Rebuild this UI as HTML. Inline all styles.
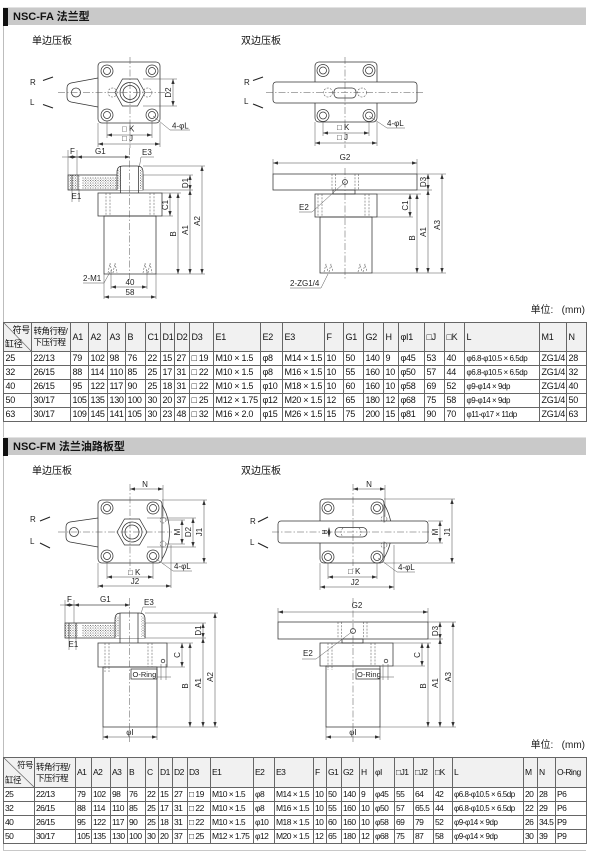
<!DOCTYPE html>
<html><head><meta charset="utf-8">
<style>
html,body{margin:0;padding:0;background:#fff;}
body{width:607px;height:859px;position:relative;overflow:hidden;font-family:"Liberation Sans","Noto Sans CJK SC",sans-serif;}
.bar{position:absolute;left:3px;width:583px;height:18px;background:#c9c9c9;border-top:1px solid #e2e2e2;box-sizing:border-box;}
.bar .blk{position:absolute;left:0;top:0;width:5px;height:18px;background:#111;}
.bar .t{position:absolute;left:10px;top:2px;font-size:11px;font-weight:bold;color:#111;line-height:14px;white-space:nowrap;}
.sub{position:absolute;font-size:10px;color:#111;line-height:12px;white-space:nowrap;}
.unit{position:absolute;right:22px;font-size:10px;color:#222;line-height:12px;white-space:nowrap;}
table.tb{position:absolute;left:3px;border-collapse:collapse;table-layout:fixed;width:583px;font-size:9px;color:#111;border-top:1.5px solid #222;border-bottom:1.5px solid #222;}
table.tb td{border:1px solid #666;padding:0 0 0 1.5px;white-space:nowrap;overflow:hidden;line-height:13px;height:13px;letter-spacing:-0.3px;}
table.t2 td{font-size:8.5px;letter-spacing:-0.55px;padding-left:1px;}
table.tb tr.hd td{background:#f1f1f1;}
table.tb td.ls{font-size:8px;letter-spacing:-0.45px;}
table.tb td.dg{position:relative;padding:0;}
.dg svg{position:absolute;left:0;top:0;}
.dg .a{position:absolute;right:1px;top:2px;line-height:10px;}
.dg .b{position:absolute;left:1px;bottom:2px;line-height:10px;}
.hz{line-height:11px;font-size:8.5px;letter-spacing:-0.5px;}
</style></head><body>

<!-- frame lines -->
<div style="position:absolute;left:3px;top:25px;width:1px;height:412px;background:#bdbdbd"></div>
<div style="position:absolute;left:3px;top:455px;width:1px;height:396px;background:#bdbdbd"></div>
<div style="position:absolute;left:3px;top:850px;width:583px;height:1px;background:#c8c8c8"></div>

<!-- Section 1 -->
<div class="bar" style="top:7px"><div class="blk"></div><div class="t">NSC-FA 法兰型</div></div>
<div class="sub" style="left:32px;top:36px">单边压板</div>
<div class="sub" style="left:241px;top:36px">双边压板</div>
<div class="unit" style="top:305px">单位:&nbsp;&nbsp;&nbsp;(mm)</div>

<table class="tb" style="top:322px">
<colgroup>
<col style="width:28px"><col style="width:39px"><col style="width:18px"><col style="width:19px"><col style="width:18px"><col style="width:20px"><col style="width:15px"><col style="width:14px"><col style="width:15px"><col style="width:24px"><col style="width:47px"><col style="width:22px"><col style="width:42px"><col style="width:19px"><col style="width:20px"><col style="width:20px"><col style="width:15px"><col style="width:26px"><col style="width:20px"><col style="width:20px"><col style="width:75px"><col style="width:27px"><col style="width:20px">
</colgroup>
<tr class="hd">
<td class="dg" style="height:28px"><svg width="28" height="29"><line x1="0" y1="0" x2="28" y2="29" stroke="#666" stroke-width="0.7"/></svg><span class="a">符号</span><span class="b">缸径</span></td>
<td style="height:28px"><div class="hz">转角行程/<br>下压行程</div></td>
<td>A1</td><td>A2</td><td>A3</td><td>B</td><td>C1</td><td>D1</td><td>D2</td><td>D3</td><td>E1</td><td>E2</td><td>E3</td><td>F</td><td>G1</td><td>G2</td><td>H</td><td>φI1</td><td>□J</td><td>□K</td><td>L</td><td>M1</td><td>N</td></tr>
<tr><td>25</td><td>22/13</td><td>79</td><td>102</td><td>98</td><td>76</td><td>22</td><td>15</td><td>27</td><td>□ 19</td><td>M10 × 1.5</td><td>φ8</td><td>M14 × 1.5</td><td>10</td><td>50</td><td>140</td><td>9</td><td>φ45</td><td>53</td><td>40</td><td class="ls">φ6.8-φ10.5 × 6.5dp</td><td>ZG1/4</td><td>28</td></tr>
<tr><td>32</td><td>26/15</td><td>88</td><td>114</td><td>110</td><td>85</td><td>25</td><td>17</td><td>31</td><td>□ 22</td><td>M10 × 1.5</td><td>φ8</td><td>M16 × 1.5</td><td>10</td><td>55</td><td>160</td><td>10</td><td>φ50</td><td>57</td><td>44</td><td class="ls">φ6.8-φ10.5 × 6.5dp</td><td>ZG1/4</td><td>32</td></tr>
<tr><td>40</td><td>26/15</td><td>95</td><td>122</td><td>117</td><td>90</td><td>25</td><td>18</td><td>31</td><td>□ 22</td><td>M10 × 1.5</td><td>φ10</td><td>M18 × 1.5</td><td>10</td><td>60</td><td>160</td><td>10</td><td>φ58</td><td>69</td><td>52</td><td class="ls">φ9-φ14 × 9dp</td><td>ZG1/4</td><td>40</td></tr>
<tr><td>50</td><td>30/17</td><td>105</td><td>135</td><td>130</td><td>100</td><td>30</td><td>20</td><td>37</td><td>□ 25</td><td>M12 × 1.75</td><td>φ12</td><td>M20 × 1.5</td><td>12</td><td>65</td><td>180</td><td>12</td><td>φ68</td><td>75</td><td>58</td><td class="ls">φ9-φ14 × 9dp</td><td>ZG1/4</td><td>50</td></tr>
<tr><td>63</td><td>30/17</td><td>109</td><td>145</td><td>141</td><td>105</td><td>30</td><td>23</td><td>48</td><td>□ 32</td><td>M16 × 2.0</td><td>φ15</td><td>M26 × 1.5</td><td>15</td><td>75</td><td>200</td><td>15</td><td>φ81</td><td>90</td><td>70</td><td class="ls">φ11-φ17 × 11dp</td><td>ZG1/4</td><td>63</td></tr>
</table>

<!-- Section 2 -->
<div class="bar" style="top:437px"><div class="blk"></div><div class="t">NSC-FM 法兰油路板型</div></div>
<div class="sub" style="left:32px;top:466px">单边压板</div>
<div class="sub" style="left:241px;top:466px">双边压板</div>
<div class="unit" style="top:740px">单位:&nbsp;&nbsp;&nbsp;(mm)</div>

<table class="tb t2" style="top:757px">
<colgroup>
<col style="width:31px"><col style="width:41px"><col style="width:16px"><col style="width:19px"><col style="width:17px"><col style="width:18px"><col style="width:13px"><col style="width:14px"><col style="width:15px"><col style="width:23px"><col style="width:43px"><col style="width:21px"><col style="width:39px"><col style="width:13px"><col style="width:15px"><col style="width:18px"><col style="width:14px"><col style="width:21px"><col style="width:19px"><col style="width:20px"><col style="width:19px"><col style="width:71px"><col style="width:14px"><col style="width:18px"><col style="width:31px">
</colgroup>
<tr class="hd">
<td class="dg" style="height:29px"><svg width="31" height="30"><line x1="0" y1="0" x2="31" y2="30" stroke="#666" stroke-width="0.7"/></svg><span class="a">符号</span><span class="b">缸径</span></td>
<td style="height:29px"><div class="hz">转角行程/<br>下压行程</div></td>
<td>A1</td><td>A2</td><td>A3</td><td>B</td><td>C</td><td>D1</td><td>D2</td><td>D3</td><td>E1</td><td>E2</td><td>E3</td><td>F</td><td>G1</td><td>G2</td><td>H</td><td>φI</td><td>□J1</td><td>□J2</td><td>□K</td><td>L</td><td>M</td><td>N</td><td>O-Ring</td></tr>
<tr><td>25</td><td>22/13</td><td>79</td><td>102</td><td>98</td><td>76</td><td>22</td><td>15</td><td>27</td><td>□ 19</td><td>M10 × 1.5</td><td>φ8</td><td>M14 × 1.5</td><td>10</td><td>50</td><td>140</td><td>9</td><td>φ45</td><td>55</td><td>64</td><td>42</td><td class="ls">φ6.8-φ10.5 × 6.5dp</td><td>20</td><td>28</td><td>P6</td></tr>
<tr><td>32</td><td>26/15</td><td>88</td><td>114</td><td>110</td><td>85</td><td>25</td><td>17</td><td>31</td><td>□ 22</td><td>M10 × 1.5</td><td>φ8</td><td>M16 × 1.5</td><td>10</td><td>55</td><td>160</td><td>10</td><td>φ50</td><td>57</td><td>65.5</td><td>44</td><td class="ls">φ6.8-φ10.5 × 6.5dp</td><td>22</td><td>29</td><td>P6</td></tr>
<tr><td>40</td><td>26/15</td><td>95</td><td>122</td><td>117</td><td>90</td><td>25</td><td>18</td><td>31</td><td>□ 22</td><td>M10 × 1.5</td><td>φ10</td><td>M18 × 1.5</td><td>10</td><td>60</td><td>160</td><td>10</td><td>φ58</td><td>69</td><td>79</td><td>52</td><td class="ls">φ9-φ14 × 9dp</td><td>26</td><td>34.5</td><td>P9</td></tr>
<tr><td>50</td><td>30/17</td><td>105</td><td>135</td><td>130</td><td>100</td><td>30</td><td>20</td><td>37</td><td>□ 25</td><td>M12 × 1.75</td><td>φ12</td><td>M20 × 1.5</td><td>12</td><td>65</td><td>180</td><td>12</td><td>φ68</td><td>75</td><td>87</td><td>58</td><td class="ls">φ9-φ14 × 9dp</td><td>30</td><td>39</td><td>P9</td></tr>
</table>

<svg width="607" height="859" style="position:absolute;left:0;top:0" xmlns="http://www.w3.org/2000/svg">
<defs>
<marker id="ar" viewBox="0 0 6 4" refX="6" refY="2" markerWidth="5" markerHeight="3.4" orient="auto-start-reverse" markerUnits="userSpaceOnUse"><path d="M0,0 L6,2 L0,4z" fill="#333"/></marker>
<pattern id="ht" width="2.5" height="2.5" patternUnits="userSpaceOnUse"><rect x="0" y="0" width="1" height="1" fill="#777"/><rect x="1.25" y="1.25" width="0.8" height="0.8" fill="#999"/></pattern>
<style>
.l{stroke:#333;stroke-width:0.75;fill:none}
.lf{stroke:#333;stroke-width:0.75;fill:#fff}
.d{stroke:#555;stroke-width:0.5;fill:none}
.dm{stroke:#444;stroke-width:0.5;fill:none;marker-start:url(#ar);marker-end:url(#ar)}
.c{stroke:#555;stroke-width:0.5;fill:none;stroke-dasharray:7 2 1.5 2}
.h{stroke:#555;stroke-width:0.55;fill:none;stroke-dasharray:2 1.3}
.ht{fill:url(#ht);stroke:none}
.rl{stroke:#222;stroke-width:1.1;fill:none}
text{font-family:"Liberation Sans",sans-serif;font-size:8px;fill:#222}
</style>
</defs>

<!-- ============ FA single : top view ============ -->
<path class="l" d="M98,78 L71,83 Q67,84 67,88 L67,97 Q67,101 71,102 L98,107"/>
<circle class="l" cx="76" cy="92.5" r="4.5"/>
<rect class="lf" x="98" y="62" width="62" height="61" rx="4"/>
<g class="l">
<circle cx="107" cy="71" r="6"/><circle cx="107" cy="71" r="3.5"/>
<circle cx="152" cy="71" r="6"/><circle cx="152" cy="71" r="3.5"/>
<circle cx="107" cy="115" r="6"/><circle cx="107" cy="115" r="3.5"/>
<circle cx="152" cy="115" r="6"/><circle cx="152" cy="115" r="3.5"/>
<polygon points="145,92.5 137.5,79 122.5,79 115,92.5 122.5,106 137.5,106"/>
<circle cx="130" cy="92.5" r="10"/><circle cx="130" cy="92.5" r="7"/>
</g>
<g class="h"><circle cx="112.5" cy="92.5" r="4.5"/><circle cx="147.5" cy="92.5" r="4.5"/></g>
<line class="c" x1="58" y1="92.5" x2="168" y2="92.5"/>
<line class="c" x1="130" y1="57" x2="130" y2="148"/>
<line class="d" x1="143" y1="79" x2="177" y2="79"/>
<line class="d" x1="143" y1="106" x2="177" y2="106"/>
<line class="dm" x1="173" y1="79" x2="173" y2="106"/>
<text transform="translate(171,92.5) rotate(-90)" text-anchor="middle">D2</text>
<text x="30" y="85">R</text><line class="rl" x1="43" y1="80.5" x2="53" y2="77"/>
<text x="30" y="105">L</text><line class="rl" x1="43" y1="104.5" x2="53" y2="108"/>
<polyline class="d" points="153,116 170,130 190,130"/>
<text x="172" y="128.5">4-φL</text>
<line class="d" x1="107" y1="121" x2="107" y2="138"/><line class="d" x1="152" y1="121" x2="152" y2="138"/>
<line class="d" x1="98" y1="123" x2="98" y2="147"/><line class="d" x1="160" y1="123" x2="160" y2="147"/>
<line class="dm" x1="107" y1="135" x2="152" y2="135"/>
<line class="dm" x1="98" y1="144" x2="160" y2="144"/>
<text x="122" y="131.5">□ K</text>
<text x="122" y="141">□ J</text>

<!-- ============ FA single : side view ============ -->
<line class="d" x1="62" y1="157" x2="130" y2="157"/>
<line class="dm" x1="68" y1="157" x2="77" y2="157"/>
<line class="dm" x1="77" y1="157" x2="130" y2="157"/>
<line class="d" x1="68" y1="150" x2="68" y2="175"/><line class="d" x1="77" y1="150" x2="77" y2="175"/>
<text x="70" y="154">F</text><text x="95" y="154">G1</text>
<text x="142" y="155">E3</text><line class="d" x1="141" y1="157" x2="154" y2="157"/><line class="d" x1="141" y1="157" x2="139" y2="169"/>
<rect class="ht" x="82" y="177" width="35" height="12"/>
<rect class="ht" x="68" y="175" width="12" height="15"/>
<rect class="l" x="68" y="175" width="75" height="15"/>
<line class="l" x1="72" y1="175" x2="72" y2="190"/><line class="l" x1="78" y1="175" x2="78" y2="190"/>
<path class="lf" d="M117,190 L117,172 Q117,166 123,166 L137,166 Q143,166 143,172 L143,190"/>
<rect class="ht" x="117.5" y="169" width="3" height="20"/><rect class="ht" x="139.5" y="169" width="3" height="20"/>
<line class="l" x1="120.5" y1="166" x2="120.5" y2="193"/><line class="l" x1="138.5" y1="166" x2="138.5" y2="193"/>
<rect class="l" x="98" y="193" width="64" height="23"/>
<rect class="l" x="104" y="216" width="52" height="58"/>
<g class="h"><line x1="106" y1="193" x2="106" y2="216"/><line x1="110" y1="193" x2="110" y2="216"/><line x1="150" y1="193" x2="150" y2="216"/><line x1="154" y1="193" x2="154" y2="216"/>
<path d="M108,273 L110,263 L112,273 M113,273 L115,263 L117,273 M143,273 L145,263 L147,273 M148,273 L150,263 L152,273"/></g>
<line class="c" x1="129.5" y1="148" x2="129.5" y2="282"/>
<line class="d" x1="143" y1="166" x2="205" y2="166"/>
<line class="d" x1="143" y1="175" x2="193" y2="175"/>
<line class="d" x1="143" y1="190" x2="193" y2="190"/>
<line class="d" x1="162" y1="193" x2="181" y2="193"/>
<line class="d" x1="162" y1="216" x2="173" y2="216"/>
<line class="d" x1="156" y1="274" x2="205" y2="274"/>
<line class="dm" x1="170" y1="193" x2="170" y2="216"/>
<line class="dm" x1="178" y1="193" x2="178" y2="274"/>
<line class="dm" x1="190" y1="175" x2="190" y2="190"/>
<line class="dm" x1="190" y1="190" x2="190" y2="274"/>
<line class="dm" x1="202" y1="166" x2="202" y2="274"/>
<text transform="translate(168,205) rotate(-90)" text-anchor="middle">C1</text>
<text transform="translate(176,234) rotate(-90)" text-anchor="middle">B</text>
<text transform="translate(188,183) rotate(-90)" text-anchor="middle">D1</text>
<text transform="translate(188,230) rotate(-90)" text-anchor="middle">A1</text>
<text transform="translate(200,221) rotate(-90)" text-anchor="middle">A2</text>
<line class="d" x1="72" y1="190" x2="72" y2="202"/><line class="d" x1="79" y1="190" x2="79" y2="202"/>
<text x="71.5" y="199">E1</text>
<line class="d" x1="111" y1="270" x2="111" y2="289"/><line class="d" x1="147" y1="270" x2="147" y2="289"/>
<line class="d" x1="104" y1="274" x2="104" y2="299"/><line class="d" x1="156" y1="274" x2="156" y2="299"/>
<line class="dm" x1="111" y1="287" x2="147" y2="287"/>
<line class="dm" x1="104" y1="297" x2="156" y2="297"/>
<text x="130" y="285" text-anchor="middle">40</text>
<text x="130" y="295" text-anchor="middle">58</text>
<text x="83" y="281">2-M1</text><polyline class="d" points="83,283 104,283 110,272"/>

<!-- ============ FA double : top view ============ -->
<rect class="lf" x="315" y="62" width="62" height="60" rx="4"/>
<g class="l">
<circle cx="323" cy="70.5" r="6"/><circle cx="323" cy="70.5" r="3.5"/>
<circle cx="369" cy="70.5" r="6"/><circle cx="369" cy="70.5" r="3.5"/>
<circle cx="323" cy="115.5" r="6"/><circle cx="323" cy="115.5" r="3.5"/>
<circle cx="369" cy="115.5" r="6"/><circle cx="369" cy="115.5" r="3.5"/>
</g>
<rect class="lf" x="273" y="82" width="144" height="21" rx="3"/>
<rect class="l" x="334" y="88" width="22" height="10" rx="4"/>
<g class="h"><circle cx="328" cy="92.5" r="4.5"/><circle cx="362" cy="92.5" r="4.5"/></g>
<line class="c" x1="266" y1="92.5" x2="424" y2="92.5"/>
<line class="c" x1="345" y1="57" x2="345" y2="148"/>
<text x="244" y="85">R</text><line class="rl" x1="253" y1="80.5" x2="263" y2="77"/>
<text x="244" y="104">L</text><line class="rl" x1="253" y1="104" x2="263" y2="108"/>
<polyline class="d" points="369,116 387,128 405,128"/>
<text x="387" y="126">4-φL</text>
<line class="d" x1="323" y1="121" x2="323" y2="136"/><line class="d" x1="369" y1="121" x2="369" y2="136"/>
<line class="d" x1="315" y1="122" x2="315" y2="146"/><line class="d" x1="377" y1="122" x2="377" y2="146"/>
<line class="dm" x1="323" y1="133" x2="369" y2="133"/>
<line class="dm" x1="315" y1="143" x2="377" y2="143"/>
<text x="337" y="130">□ K</text>
<text x="337" y="140">□ J</text>

<!-- ============ FA double : side view ============ -->
<line class="d" x1="273" y1="159" x2="273" y2="174"/><line class="d" x1="417" y1="159" x2="417" y2="174"/>
<line class="dm" x1="273" y1="163" x2="417" y2="163"/>
<text x="345" y="160" text-anchor="middle">G2</text>
<rect class="l" x="273" y="174" width="144" height="16"/>
<rect class="l" x="333" y="190" width="22" height="4"/>
<rect class="l" x="315" y="194" width="62" height="23"/>
<rect class="l" x="320" y="217" width="52" height="56"/>
<g class="h"><line x1="332" y1="174" x2="332" y2="190"/><line x1="335.5" y1="174" x2="335.5" y2="190"/><line x1="355" y1="174" x2="355" y2="190"/><line x1="358.5" y1="174" x2="358.5" y2="190"/>
<line x1="318" y1="194" x2="318" y2="217"/><line x1="322" y1="194" x2="322" y2="217"/><line x1="365" y1="194" x2="365" y2="217"/><line x1="369" y1="194" x2="369" y2="217"/>
<path d="M324,272 L326,264 L328,272 M329,272 L331,264 L333,272 M358,272 L360,264 L362,272 M363,272 L365,264 L367,272"/></g>
<circle class="l" cx="345" cy="182" r="2.5"/>
<line class="c" x1="345" y1="168" x2="345" y2="279"/>
<line class="d" x1="417" y1="174" x2="446" y2="174"/>
<line class="d" x1="417" y1="190" x2="432" y2="190"/>
<line class="d" x1="377" y1="194" x2="421" y2="194"/>
<line class="d" x1="377" y1="217" x2="413" y2="217"/>
<line class="d" x1="372" y1="273" x2="446" y2="273"/>
<line class="dm" x1="410" y1="194" x2="410" y2="217"/>
<line class="dm" x1="417" y1="194" x2="417" y2="273"/>
<line class="dm" x1="428" y1="174" x2="428" y2="190"/>
<line class="dm" x1="428" y1="190" x2="428" y2="273"/>
<line class="dm" x1="442" y1="174" x2="442" y2="273"/>
<text transform="translate(408,205.5) rotate(-90)" text-anchor="middle">C1</text>
<text transform="translate(415,238) rotate(-90)" text-anchor="middle">B</text>
<text transform="translate(426,182) rotate(-90)" text-anchor="middle">D3</text>
<text transform="translate(426,232) rotate(-90)" text-anchor="middle">A1</text>
<text transform="translate(440,225) rotate(-90)" text-anchor="middle">A3</text>
<text x="299" y="210">E2</text><polyline class="d" points="299,212 312,212 345,182"/>
<text x="290" y="286">2-ZG1/4</text><polyline class="d" points="290,288 321,288 328,274"/>

<!-- ============ FM single : top view ============ -->
<line class="d" x1="163" y1="485" x2="163" y2="516"/>
<line class="dm" x1="130" y1="489" x2="163" y2="489"/>
<text x="145" y="487" text-anchor="middle">N</text>
<path class="l" d="M98,518 L70,522 Q66,523 66,527 L66,537 Q66,541 70,542 L98,547"/>
<circle class="l" cx="74" cy="532" r="4.5"/>
<path class="l" d="M160,502 A52,52 0 0 1 160,562"/>
<rect class="lf" x="98" y="500" width="64" height="63" rx="4"/>
<g class="l">
<circle cx="107" cy="508" r="6"/><circle cx="107" cy="508" r="3.5"/>
<circle cx="153" cy="508" r="6"/><circle cx="153" cy="508" r="3.5"/>
<circle cx="107" cy="556" r="6"/><circle cx="107" cy="556" r="3.5"/>
<circle cx="153" cy="556" r="6"/><circle cx="153" cy="556" r="3.5"/>
<polygon points="147,532 139.5,519 124.5,519 117,532 124.5,545 139.5,545"/>
<circle cx="132" cy="532" r="10"/><circle cx="132" cy="532" r="7"/>
</g>
<g class="h"><circle cx="163" cy="520" r="3"/><circle cx="163" cy="544" r="3"/></g>
<line class="c" x1="58" y1="532" x2="172" y2="532"/>
<line class="c" x1="130" y1="484" x2="130" y2="572"/>
<line class="d" x1="166" y1="520" x2="185" y2="520"/><line class="d" x1="166" y1="544" x2="185" y2="544"/>
<line class="d" x1="147" y1="518" x2="196" y2="518"/><line class="d" x1="147" y1="547" x2="196" y2="547"/>
<line class="d" x1="162" y1="500" x2="207" y2="500"/><line class="d" x1="162" y1="563" x2="207" y2="563"/>
<line class="dm" x1="182" y1="520" x2="182" y2="544"/>
<line class="dm" x1="193" y1="518" x2="193" y2="547"/>
<line class="dm" x1="204" y1="500" x2="204" y2="563"/>
<text transform="translate(180,532) rotate(-90)" text-anchor="middle">M</text>
<text transform="translate(191,532) rotate(-90)" text-anchor="middle">D2</text>
<text transform="translate(202,532) rotate(-90)" text-anchor="middle">J1</text>
<text x="30" y="522">R</text><line class="rl" x1="40" y1="521" x2="50" y2="517"/>
<text x="30" y="544">L</text><line class="rl" x1="40" y1="543" x2="50" y2="548"/>
<polyline class="d" points="155,558 173,571 192,571"/>
<text x="174" y="569">4-φL</text>
<line class="d" x1="107" y1="562" x2="107" y2="579"/><line class="d" x1="153" y1="562" x2="153" y2="579"/>
<line class="d" x1="98" y1="563" x2="98" y2="588"/><line class="d" x1="171" y1="545" x2="171" y2="588"/>
<line class="dm" x1="107" y1="577" x2="153" y2="577"/>
<line class="dm" x1="98" y1="586" x2="171" y2="586"/>
<text x="128" y="575">□ K</text>
<text x="135" y="584" text-anchor="middle">J2</text>

<!-- ============ FM single : side view ============ -->
<line class="d" x1="60" y1="605" x2="130" y2="605"/>
<line class="dm" x1="65" y1="605" x2="74" y2="605"/>
<line class="dm" x1="74" y1="605" x2="130" y2="605"/>
<line class="d" x1="65" y1="600" x2="65" y2="623"/><line class="d" x1="74" y1="600" x2="74" y2="623"/>
<text x="67" y="602">F</text><text x="100" y="602">G1</text>
<text x="144" y="605">E3</text><line class="d" x1="143" y1="607" x2="156" y2="607"/><line class="d" x1="143" y1="607" x2="140" y2="617"/>
<rect class="ht" x="82" y="625" width="33" height="12"/>
<rect class="ht" x="65" y="623" width="13" height="15"/>
<rect class="l" x="65" y="623" width="80" height="15"/>
<line class="l" x1="69" y1="623" x2="69" y2="638"/><line class="l" x1="76" y1="623" x2="76" y2="638"/>
<path class="lf" d="M115,638 L115,619 Q115,613 121,613 L139,613 Q145,613 145,619 L145,638"/>
<rect class="ht" x="115.5" y="616" width="3.5" height="21"/><rect class="ht" x="141" y="616" width="3.5" height="21"/>
<line class="l" x1="120" y1="613" x2="120" y2="643"/><line class="l" x1="138" y1="613" x2="138" y2="643"/>
<rect class="l" x="98" y="643" width="69" height="24"/>
<rect class="l" x="103" y="667" width="54" height="60"/>
<g class="h"><line x1="105" y1="643" x2="105" y2="667"/><line x1="109" y1="643" x2="109" y2="667"/><line x1="148" y1="643" x2="148" y2="667"/><line x1="152" y1="643" x2="152" y2="667"/>
<line x1="105" y1="667" x2="105" y2="672"/><line x1="109" y1="667" x2="109" y2="672"/></g>
<rect class="l" x="131" y="669" width="26" height="10"/>
<text x="132.5" y="677" style="font-size:7.5px">O-Ring</text>
<circle class="l" cx="163" cy="661" r="1.8"/>
<line class="d" x1="161" y1="664" x2="161" y2="680"/><line class="d" x1="166" y1="664" x2="166" y2="680"/>
<line class="d" x1="157" y1="677" x2="171" y2="677"/>
<line class="c" x1="129.5" y1="598" x2="129.5" y2="742"/>
<line class="d" x1="145" y1="613" x2="218" y2="613"/>
<line class="d" x1="145" y1="623" x2="206" y2="623"/>
<line class="d" x1="145" y1="638" x2="206" y2="638"/>
<line class="d" x1="167" y1="643" x2="193" y2="643"/>
<line class="d" x1="167" y1="667" x2="185" y2="667"/>
<line class="d" x1="157" y1="727" x2="218" y2="727"/>
<line class="dm" x1="182" y1="643" x2="182" y2="667"/>
<line class="dm" x1="190" y1="643" x2="190" y2="727"/>
<line class="dm" x1="203" y1="623" x2="203" y2="638"/>
<line class="dm" x1="203" y1="638" x2="203" y2="727"/>
<line class="dm" x1="215" y1="613" x2="215" y2="727"/>
<text transform="translate(180,655) rotate(-90)" text-anchor="middle">C</text>
<text transform="translate(188,686) rotate(-90)" text-anchor="middle">B</text>
<text transform="translate(201,630.5) rotate(-90)" text-anchor="middle">D1</text>
<text transform="translate(201,683) rotate(-90)" text-anchor="middle">A1</text>
<text transform="translate(213,677) rotate(-90)" text-anchor="middle">A2</text>
<line class="d" x1="69" y1="638" x2="69" y2="650"/><line class="d" x1="76" y1="638" x2="76" y2="650"/>
<text x="68.5" y="647">E1</text>
<line class="d" x1="103" y1="727" x2="103" y2="740"/><line class="d" x1="157" y1="727" x2="157" y2="740"/>
<line class="dm" x1="103" y1="737" x2="157" y2="737"/>
<text x="130" y="735" text-anchor="middle">φI</text>

<!-- ============ FM double : top view ============ -->
<line class="d" x1="385" y1="485" x2="385" y2="516"/>
<line class="dm" x1="353" y1="489" x2="385" y2="489"/>
<text x="369" y="487" text-anchor="middle">N</text>
<path class="l" d="M382,501 A52,52 0 0 1 382,561"/>
<rect class="lf" x="320" y="499" width="64" height="64" rx="4"/>
<g class="l">
<circle cx="328" cy="508" r="6"/><circle cx="328" cy="508" r="3.5"/>
<circle cx="377" cy="508" r="6"/><circle cx="377" cy="508" r="3.5"/>
<circle cx="328" cy="557" r="6"/><circle cx="328" cy="557" r="3.5"/>
<circle cx="377" cy="557" r="6"/><circle cx="377" cy="557" r="3.5"/>
</g>
<rect class="lf" x="278" y="521" width="150" height="22" rx="3"/>
<rect class="l" x="335" y="527.5" width="32" height="9.5" rx="4.5"/>
<path class="h" d="M343,528 Q339,532 343,537 M359,528 Q363,532 359,537"/>
<g class="h"><circle cx="384" cy="519" r="3"/><circle cx="384" cy="545" r="3"/></g>
<line class="c" x1="272" y1="532" x2="434" y2="532"/>
<line class="c" x1="353" y1="484" x2="353" y2="572"/>
<line class="dm" x1="329" y1="527.5" x2="329" y2="537"/>
<text transform="translate(327,532) rotate(-90)" text-anchor="middle" style="font-size:7px">H</text>
<line class="d" x1="428" y1="521" x2="443" y2="521"/><line class="d" x1="428" y1="543" x2="443" y2="543"/>
<line class="d" x1="384" y1="499" x2="455" y2="499"/><line class="d" x1="384" y1="563" x2="455" y2="563"/>
<line class="dm" x1="440" y1="521" x2="440" y2="543"/>
<line class="dm" x1="452" y1="499" x2="452" y2="563"/>
<text transform="translate(438,532) rotate(-90)" text-anchor="middle">M</text>
<text transform="translate(450,532) rotate(-90)" text-anchor="middle">J1</text>
<text x="250" y="524">R</text><line class="rl" x1="258" y1="522" x2="268" y2="517"/>
<text x="250" y="545">L</text><line class="rl" x1="258" y1="543" x2="268" y2="548"/>
<polyline class="d" points="378,558 397,572 415,572"/>
<text x="398" y="570">4-φL</text>
<line class="d" x1="328" y1="563" x2="328" y2="579"/><line class="d" x1="377" y1="563" x2="377" y2="579"/>
<line class="d" x1="320" y1="563" x2="320" y2="590"/><line class="d" x1="394" y1="545" x2="394" y2="590"/>
<line class="dm" x1="328" y1="577" x2="377" y2="577"/>
<line class="dm" x1="320" y1="587" x2="394" y2="587"/>
<text x="348" y="574">□ K</text>
<text x="355" y="585" text-anchor="middle">J2</text>

<!-- ============ FM double : side view ============ -->
<line class="d" x1="278" y1="608" x2="278" y2="622"/><line class="d" x1="428" y1="608" x2="428" y2="622"/>
<line class="dm" x1="278" y1="612" x2="428" y2="612"/>
<text x="357" y="608" text-anchor="middle">G2</text>
<rect class="l" x="278" y="622" width="150" height="17"/>
<rect class="l" x="342" y="639" width="21" height="4"/>
<rect class="l" x="320" y="643" width="73" height="23"/>
<rect class="l" x="326" y="666" width="54" height="61"/>
<g class="h"><line x1="338" y1="622" x2="338" y2="639"/><line x1="341.5" y1="622" x2="341.5" y2="639"/><line x1="363.5" y1="622" x2="363.5" y2="639"/><line x1="367" y1="622" x2="367" y2="639"/>
<line x1="328" y1="643" x2="328" y2="670"/><line x1="332" y1="643" x2="332" y2="670"/><line x1="371" y1="643" x2="371" y2="666"/><line x1="375" y1="643" x2="375" y2="666"/></g>
<circle class="l" cx="353" cy="631" r="2.5"/>
<line class="c" x1="353" y1="598" x2="353" y2="742"/>
<rect class="l" x="356" y="669" width="24" height="10"/>
<text x="357" y="677" style="font-size:7.5px">O-Ring</text>
<circle class="l" cx="386" cy="661" r="1.8"/>
<line class="d" x1="383" y1="664" x2="383" y2="680"/><line class="d" x1="388" y1="664" x2="388" y2="680"/>
<line class="d" x1="380" y1="677" x2="394" y2="677"/>
<line class="d" x1="428" y1="622" x2="456" y2="622"/>
<line class="d" x1="428" y1="639" x2="443" y2="639"/>
<line class="d" x1="393" y1="643" x2="431" y2="643"/>
<line class="d" x1="393" y1="666" x2="425" y2="666"/>
<line class="d" x1="380" y1="727" x2="456" y2="727"/>
<line class="dm" x1="422" y1="643" x2="422" y2="666"/>
<line class="dm" x1="428" y1="643" x2="428" y2="727"/>
<line class="dm" x1="440" y1="622" x2="440" y2="639"/>
<line class="dm" x1="440" y1="639" x2="440" y2="727"/>
<line class="dm" x1="453" y1="622" x2="453" y2="727"/>
<text transform="translate(420,655) rotate(-90)" text-anchor="middle">C</text>
<text transform="translate(426,686) rotate(-90)" text-anchor="middle">B</text>
<text transform="translate(438,631) rotate(-90)" text-anchor="middle">D3</text>
<text transform="translate(438,683) rotate(-90)" text-anchor="middle">A1</text>
<text transform="translate(451,677) rotate(-90)" text-anchor="middle">A3</text>
<text x="303" y="656">E2</text><polyline class="d" points="302,659 316,659 353,631"/>
<line class="d" x1="326" y1="727" x2="326" y2="740"/><line class="d" x1="380" y1="727" x2="380" y2="740"/>
<line class="dm" x1="326" y1="737" x2="380" y2="737"/>
<text x="353" y="735" text-anchor="middle">φI</text>
</svg>
</body></html>
